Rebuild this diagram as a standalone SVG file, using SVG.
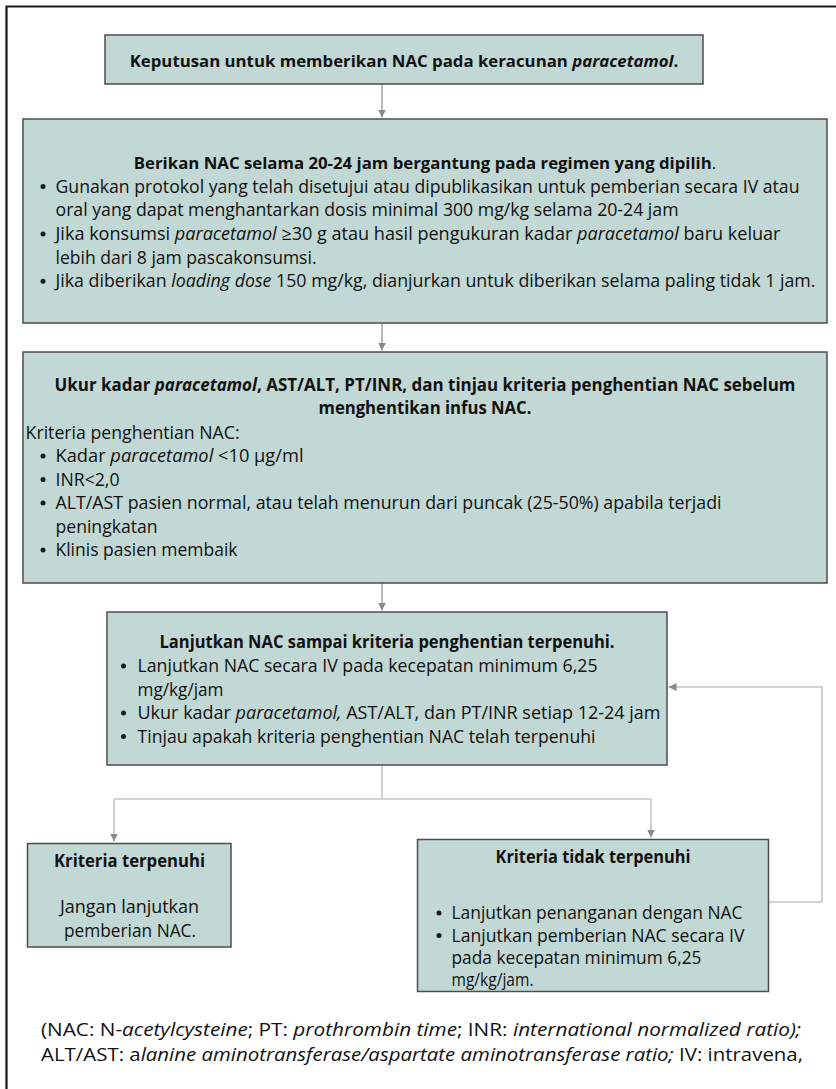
<svg xmlns="http://www.w3.org/2000/svg" width="836" height="1089" viewBox="0 0 836 1089">
<style>
text{font-family:"Open Sans","Noto Sans","Liberation Sans",sans-serif;font-size:17.5px;fill:#111}
.b{font-weight:bold}
.c{text-anchor:middle}
.i{font-style:italic}
.n{font-weight:normal}
.box{fill:#c1d8d4;stroke:#4d4d4d;stroke-width:1.5}
.ln{fill:none;stroke:#a8a8a8;stroke-width:1.6}
.lt{fill:none;stroke:#c4c4c4;stroke-width:1.6}
.dot{fill:#1a1a1a}
</style>
<defs>
<marker id="ah" viewBox="0 0 10 10" refX="10" refY="5" markerWidth="8" markerHeight="8" markerUnits="userSpaceOnUse" orient="auto"><path d="M0,0 L10,5 L0,10 z" fill="#888"/></marker>
</defs>
<rect width="836" height="1089" fill="#fff"/>
<path d="M6.5,1089 V6.5 H836" fill="none" stroke="#1a1a1a" stroke-width="2.2"/>

<g id="connectors">
<path class="ln" d="M382,84 V117.5" marker-end="url(#ah)"/>
<path class="ln" d="M382,323 V350.5" marker-end="url(#ah)"/>
<path class="ln" d="M382,583 V610.5" marker-end="url(#ah)"/>
<path class="lt" d="M382,765 V799"/>
<path class="lt" d="M114,799 H651"/>
<path class="lt" d="M114,799 V841.5" marker-end="url(#ah)"/>
<path class="lt" d="M651,799 V837.5" marker-end="url(#ah)"/>
<path class="lt" d="M768.5,902 H822 V687 H668.5" marker-end="url(#ah)"/>
</g>

<g id="n1">
<rect class="box" x="105" y="35" width="598" height="49"/>
<text class="b c" x="404" y="66.5" style="font-size:16.8px">Keputusan untuk memberikan NAC pada keracunan <tspan class="i">paracetamol</tspan>.</text>
</g>

<g id="n2">
<rect class="box" x="23" y="119" width="804" height="204"/>
<text class="b c" x="425" y="168.5" style="font-size:16.8px">Berikan NAC selama 20-24 jam bergantung pada regimen yang dipilih<tspan class="n">.</tspan></text>
<circle class="dot" cx="43" cy="186.5" r="2.5"/>
<text x="55.5" y="192.5" textLength="744" lengthAdjust="spacingAndGlyphs">Gunakan protokol yang telah disetujui atau dipublikasikan untuk pemberian secara IV atau</text>
<text x="55.5" y="216.2" textLength="623" lengthAdjust="spacingAndGlyphs">oral yang dapat menghantarkan dosis minimal 300 mg/kg selama 20-24 jam</text>
<circle class="dot" cx="43" cy="233.9" r="2.5"/>
<text x="55.5" y="239.9" textLength="725" lengthAdjust="spacingAndGlyphs">Jika konsumsi <tspan class="i">paracetamol</tspan> ≥30 g atau hasil pengukuran kadar <tspan class="i">paracetamol</tspan> baru keluar</text>
<text x="55.5" y="263.6" textLength="261" lengthAdjust="spacingAndGlyphs">lebih dari 8 jam pascakonsumsi.</text>
<circle class="dot" cx="43" cy="281.3" r="2.5"/>
<text x="55.5" y="287.3" textLength="760" lengthAdjust="spacingAndGlyphs">Jika diberikan <tspan class="i">loading dose</tspan> 150 mg/kg, dianjurkan untuk diberikan selama paling tidak 1 jam.</text>
</g>

<g id="n3">
<rect class="box" x="23" y="352" width="804" height="231"/>
<text class="b c" x="425" y="391" textLength="741" lengthAdjust="spacingAndGlyphs">Ukur kadar <tspan class="i">paracetamol</tspan>, AST/ALT, PT/INR, dan tinjau kriteria penghentian NAC sebelum</text>
<text class="b c" x="425" y="414.3" textLength="213" lengthAdjust="spacingAndGlyphs">menghentikan infus NAC.</text>
<text x="25.6" y="438.5" textLength="214" lengthAdjust="spacingAndGlyphs">Kriteria penghentian NAC:</text>
<circle class="dot" cx="43" cy="456" r="2.5"/>
<text x="55.5" y="462" textLength="248" lengthAdjust="spacingAndGlyphs">Kadar <tspan class="i">paracetamol</tspan> &lt;10 µg/ml</text>
<circle class="dot" cx="43" cy="479.5" r="2.5"/>
<text x="55.5" y="485.5" textLength="64" lengthAdjust="spacingAndGlyphs">INR&lt;2,0</text>
<circle class="dot" cx="43" cy="503" r="2.5"/>
<text x="55.5" y="509" textLength="666" lengthAdjust="spacingAndGlyphs">ALT/AST pasien normal, atau telah menurun dari puncak (25-50%) apabila terjadi</text>
<text x="55.5" y="532.5" textLength="102" lengthAdjust="spacingAndGlyphs">peningkatan</text>
<circle class="dot" cx="43" cy="550" r="2.5"/>
<text x="55.5" y="556" textLength="182" lengthAdjust="spacingAndGlyphs">Klinis pasien membaik</text>
</g>

<g id="n4">
<rect class="box" x="107" y="612" width="560" height="153"/>
<text class="b c" x="387" y="647.7" textLength="455" lengthAdjust="spacingAndGlyphs">Lanjutkan NAC sampai kriteria penghentian terpenuhi.</text>
<circle class="dot" cx="123.5" cy="666" r="2.5"/>
<text x="137.5" y="672" textLength="460" lengthAdjust="spacingAndGlyphs">Lanjutkan NAC secara IV pada kecepatan minimum 6,25</text>
<text x="137.5" y="695.5" textLength="86" lengthAdjust="spacingAndGlyphs">mg/kg/jam</text>
<circle class="dot" cx="123.5" cy="713" r="2.5"/>
<text x="137.5" y="719" textLength="523" lengthAdjust="spacingAndGlyphs">Ukur kadar <tspan class="i">paracetamol,</tspan> AST/ALT, dan PT/INR setiap 12-24 jam</text>
<circle class="dot" cx="123.5" cy="736.5" r="2.5"/>
<text x="137.5" y="742.5" textLength="458" lengthAdjust="spacingAndGlyphs">Tinjau apakah kriteria penghentian NAC telah terpenuhi</text>
</g>

<g id="n5">
<rect class="box" x="27.5" y="843.5" width="203.5" height="103.5"/>
<text class="b c" x="129.5" y="866.7" textLength="151" lengthAdjust="spacingAndGlyphs">Kriteria terpenuhi</text>
<text class="c" x="129.5" y="913.3" textLength="139" lengthAdjust="spacingAndGlyphs">Jangan lanjutkan</text>
<text class="c" x="130" y="937" textLength="132" lengthAdjust="spacingAndGlyphs">pemberian NAC.</text>
</g>

<g id="n6">
<rect class="box" x="417.5" y="839.5" width="351" height="152"/>
<text class="b c" x="593" y="862.7" textLength="195" lengthAdjust="spacingAndGlyphs">Kriteria tidak terpenuhi</text>
<circle class="dot" cx="439" cy="913" r="2.5"/>
<text x="451.5" y="919" textLength="291" lengthAdjust="spacingAndGlyphs">Lanjutkan penanganan dengan NAC</text>
<circle class="dot" cx="439" cy="935.5" r="2.5"/>
<text x="451.5" y="941.5" textLength="293" lengthAdjust="spacingAndGlyphs">Lanjutkan pemberian NAC secara IV</text>
<text x="451.5" y="964" textLength="250" lengthAdjust="spacingAndGlyphs">pada kecepatan minimum 6,25</text>
<text x="451.5" y="986" textLength="82" lengthAdjust="spacingAndGlyphs">mg/kg/jam.</text>
</g>

<g id="footer">
<text x="41" y="1036" textLength="760" lengthAdjust="spacingAndGlyphs">(NAC: N-<tspan class="i">acetylcysteine</tspan>; PT: <tspan class="i">prothrombin time</tspan>; INR: <tspan class="i">international normalized ratio);</tspan></text>
<text x="41" y="1061" textLength="762" lengthAdjust="spacingAndGlyphs">ALT/AST: a<tspan class="i">lanine aminotransferase/aspartate aminotransferase ratio;</tspan> IV: intravena,</text>
</g>
</svg>
